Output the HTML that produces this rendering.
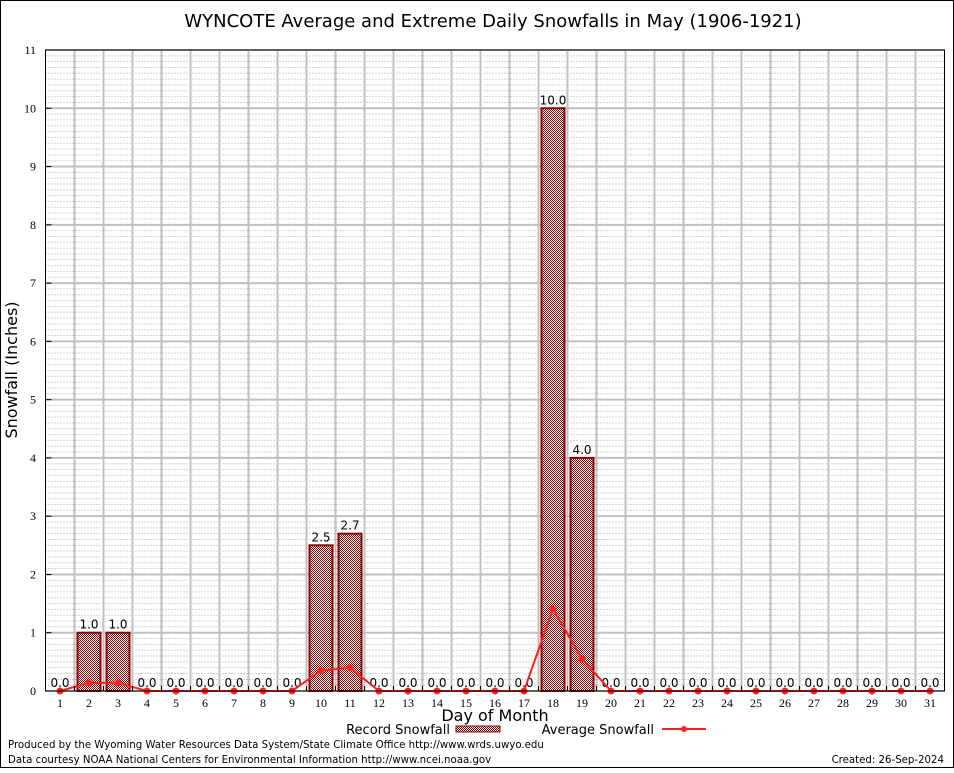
<!DOCTYPE html>
<html><head><meta charset="utf-8"><style>
body{margin:0;background:#fff}
</style></head><body>
<svg id="c" width="954" height="768" xmlns="http://www.w3.org/2000/svg" font-family="DejaVu Sans, Liberation Sans, sans-serif">
<defs><pattern id="chk" width="2" height="2" patternUnits="userSpaceOnUse"><rect width="2" height="2" fill="#fff"/><rect width="1" height="1" fill="#8b0000"/><rect x="1" y="1" width="1" height="1" fill="#8b0000"/></pattern></defs>
<rect x="0.5" y="0.5" width="953" height="767" fill="#fff" stroke="#000"/>
<text x="493" y="27" font-size="18" text-anchor="middle">WYNCOTE Average and Extreme Daily Snowfalls in May (1906-1921)</text>
<g id="grid"></g><g id="bars"></g><g id="line"></g><g id="axes"></g>
<text transform="translate(17,370) rotate(-90)" font-size="16" text-anchor="middle">Snowfall (Inches)</text>
<text x="495" y="721" font-size="16" text-anchor="middle">Day of Month</text>
<g><text x="450" y="734" font-size="13" text-anchor="end">Record Snowfall</text><rect x="456" y="726" width="44" height="6" fill="url(#chk)" stroke="#8b0000"/></g>
<g><text x="654" y="734" font-size="13" text-anchor="end">Average Snowfall</text><line x1="662" y1="729" x2="706" y2="729" stroke="#ff2020" stroke-width="2"/><circle cx="684" cy="729" r="3" fill="#ff2020"/></g>
<text x="8" y="748" font-size="10.2">Produced by the Wyoming Water Resources Data System/State Climate Office http://www.wrds.uwyo.edu</text>
<text x="8" y="763" font-size="10.2">Data courtesy NOAA National Centers for Environmental Information http://www.ncei.noaa.gov</text>
<text x="944" y="763" font-size="10.2" text-anchor="end">Created: 26-Sep-2024</text>
</svg>
<script>
const days=[1,2,3,4,5,6,7,8,9,10,11,12,13,14,15,16,17,18,19,20,21,22,23,24,25,26,27,28,29,30,31];
const records=[0,1.0,1.0,0,0,0,0,0,0,2.5,2.7,0,0,0,0,0,0,10.0,4.0,0,0,0,0,0,0,0,0,0,0,0,0];
const averages=[0,0.14,0.14,0,0,0,0,0,0,0.35,0.4,0,0,0,0,0,0,1.41,0.55,0,0,0,0,0,0,0,0,0,0,0,0];
const yTicks=[0,1,2,3,4,5,6,7,8,9,10,11];
const NS='http://www.w3.org/2000/svg';
const L=45.5,R=944.5,T=50,B=691,YMAX=11;
const x=d=>60+(d-1)*29;
const y=v=>B-v*(B-T)/YMAX;
function mk(p,t,a){const e=document.createElementNS(NS,t);for(const k in a)e.setAttribute(k,a[k]);document.getElementById(p).appendChild(e);return e;}
const SERIF='Liberation Serif, serif';
for(let v=0;v<YMAX;v+=0.1){const r=Math.round(v*10);if(r%10===0)continue;
 const e=mk('grid','line',{x1:L,x2:R,y1:y(r/10),y2:y(r/10),stroke:'#aaa','stroke-dasharray':'1,2','stroke-width':1});
 
 }
yTicks.forEach(v=>{const e=mk('grid','line',{x1:L,x2:R,y1:y(v),y2:y(v),stroke:'#c0c0c0','stroke-width':2});
 
 
 const t=mk('axes','text',{x:36,y:y(v)+4,'font-size':12,'text-anchor':'end','font-family':SERIF});t.textContent=v;
 
 
 mk('axes','line',{x1:L,x2:L+6,y1:y(v),y2:y(v),stroke:'#000'});});
days.forEach(d=>{if(d>1){const e=mk('grid','line',{x1:x(d)-14.5,x2:x(d)-14.5,y1:T,y2:B,stroke:'#c0c0c0','stroke-width':2});
 
 }
 mk('axes','line',{x1:x(d)-14.5,x2:x(d)-14.5,y1:B,y2:B-5,stroke:'#000'});
 const t=mk('axes','text',{x:x(d),y:B+16,'font-size':12,'text-anchor':'middle','font-family':SERIF});t.textContent=d;
 
 });
mk('axes','rect',{x:L,y:T,width:R-L,height:B-T,fill:'none',stroke:'#000'});
days.forEach((d,i)=>{const v=records[i];
 if(v>0){const b=mk('bars','rect',{x:x(d)-11.5,y:y(v),width:23,height:B-y(v),fill:'url(#chk)',stroke:'#8b0000','stroke-width':2});
 
 }
 const t=mk('bars','text',{x:x(d),y:y(v)-4,'font-size':12,'text-anchor':'middle'});t.textContent=v.toFixed(1);
 
 });
const pl=mk('line','polyline',{points:days.map((d,i)=>x(d)+','+y(averages[i])).join(' '),fill:'none',stroke:'#ff2020','stroke-width':2});


days.forEach((d,i)=>{const c=mk('line','circle',{cx:x(d),cy:y(averages[i]),r:3.5,fill:'#ff2020'});
 
 });
</script>
</body></html>
